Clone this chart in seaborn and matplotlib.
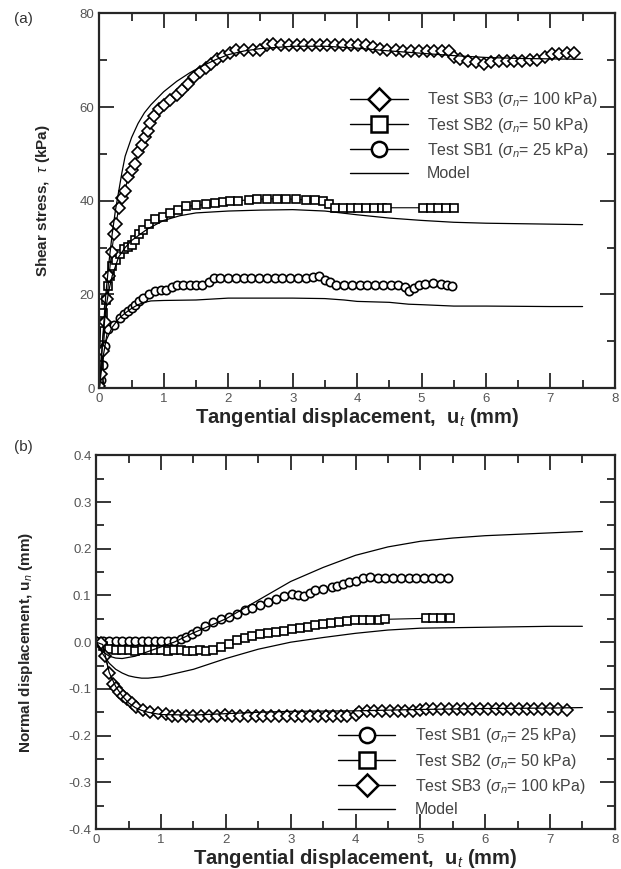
import numpy as np
import seaborn as sns
import matplotlib.pyplot as plt
from matplotlib.lines import Line2D
from matplotlib.ticker import MultipleLocator, FormatStrFormatter

# ---- (a) shear stress vs tangential displacement ----
sb3_x = [0.0, 0.03, 0.06, 0.09, 0.12, 0.15, 0.19, 0.23, 0.26, 0.30, 0.35, 0.40, 0.44, 0.50,
         0.56, 0.60, 0.66, 0.71, 0.75, 0.79, 0.85, 0.92, 1.00, 1.10, 1.20, 1.29, 1.38, 1.47,
         1.56, 1.65, 1.74, 1.83, 1.92, 2.02, 2.12, 2.25, 2.38, 2.50, 2.60, 2.70, 2.82, 2.94,
         3.06, 3.18, 3.30, 3.42, 3.54, 3.66, 3.78, 3.90, 4.02, 4.14, 4.25, 4.35, 4.47, 4.60,
         4.72, 4.84, 4.96, 5.08, 5.20, 5.32, 5.42, 5.50, 5.60, 5.72, 5.84, 5.97, 6.08, 6.20,
         6.32, 6.44, 6.56, 6.68, 6.80, 6.92, 7.02, 7.14, 7.26, 7.36]
sb3_y = [0.5, 3, 8, 14, 19, 24, 29, 33, 35, 38.5, 40.5, 42, 45, 46.5,
         47.8, 50.5, 52, 53.6, 55, 56.6, 58, 59.5, 60.5, 61.6, 62.6, 63.7, 65, 66.5,
         67.5, 68.4, 69.3, 70.2, 70.9, 71.6, 72.2, 72.2, 72.2, 72.3, 73.2, 73.4, 73.3, 73.3,
         73.3, 73.3, 73.3, 73.3, 73.3, 73.3, 73.3, 73.3, 73.3, 73.2, 72.9, 72.5, 72.2, 72.2,
         72.0, 72.0, 72.0, 72.0, 72.0, 72.0, 72.0, 70.8, 70.2, 69.9, 69.6, 69.2, 69.7, 69.8,
         69.8, 69.8, 69.9, 70.0, 70.0, 70.8, 71.3, 71.4, 71.5, 71.6]

sb2_x = [0.0, 0.0, 0.0, 0.01, 0.02, 0.06, 0.10, 0.13, 0.16, 0.19, 0.26, 0.32, 0.38, 0.44,
         0.50, 0.56, 0.62, 0.68, 0.77, 0.86, 0.98, 1.10, 1.22, 1.35, 1.50, 1.65, 1.80, 1.92,
         2.02, 2.15, 2.32, 2.45, 2.60, 2.75, 2.90, 3.05, 3.20, 3.35, 3.47, 3.56, 3.66, 3.78,
         3.90, 4.02, 4.14, 4.26, 4.38, 4.47, 5.02, 5.14, 5.26, 5.38, 5.50]
sb2_y = [0.5, 2, 5, 8.2, 13.9, 16, 18.9, 21.7, 24, 26, 27.4, 28.6, 29.6, 30.2,
         30.6, 31.7, 32.8, 33.8, 35, 36, 36.6, 37.4, 38.1, 38.8, 39.0, 39.2, 39.5, 39.7,
         39.9, 40.0, 40.2, 40.3, 40.4, 40.4, 40.4, 40.3, 40.2, 40.2, 39.9, 39.4, 38.5, 38.5,
         38.5, 38.5, 38.5, 38.5, 38.5, 38.5, 38.5, 38.5, 38.5, 38.5, 38.5]

sb1_x = [0.0, 0.02, 0.05, 0.085, 0.13, 0.22, 0.32, 0.38, 0.44, 0.50, 0.56, 0.62, 0.68, 0.77,
         0.86, 0.95, 1.04, 1.12, 1.20, 1.30, 1.40, 1.50, 1.60, 1.70, 1.78, 1.88, 2.00, 2.12,
         2.24, 2.36, 2.48, 2.60, 2.72, 2.84, 2.96, 3.08, 3.20, 3.32, 3.41, 3.50, 3.58, 3.68,
         3.80, 3.92, 4.04, 4.16, 4.28, 4.40, 4.52, 4.64, 4.74, 4.81, 4.88, 4.96, 5.06, 5.18,
         5.30, 5.40, 5.48]
sb1_y = [0.3, 1.8, 5, 8.9, 12.5, 13.5, 15, 15.8, 16.4, 17.1, 17.8, 18.5, 19.2, 20,
         20.7, 20.9, 21.0, 21.6, 22.1, 22.1, 22.1, 22.1, 22.1, 22.6, 23.5, 23.6, 23.6, 23.6,
         23.6, 23.6, 23.6, 23.6, 23.6, 23.6, 23.6, 23.5, 23.5, 23.8, 23.9, 23.1, 22.6, 22.1,
         22.1, 22.0, 22.0, 22.0, 22.0, 22.0, 22.0, 22.0, 21.6, 20.7, 21.4, 22.1, 22.2, 22.4,
         22.2, 21.9, 21.7]

m3_x = [0, 0.05, 0.1, 0.15, 0.2, 0.25, 0.3, 0.35, 0.4, 0.5, 0.6, 0.7, 0.8, 1.0, 1.2, 1.4,
        1.6, 1.8, 2.0, 2.25, 2.5, 3.0, 3.5, 4.0, 4.5, 5.0, 5.5, 6.0, 6.5, 7.0, 7.5]
m3_y = [0, 10, 20, 27, 33, 38, 42, 46, 49.5, 53.5, 56.5, 58.8, 60.5, 63.3, 65.5, 67.3,
        68.8, 70.1, 71.2, 72, 72.5, 73, 73, 72.6, 72, 71.5, 71, 70.6, 70.4, 70.3, 70.2]
m2_x = [0, 0.05, 0.1, 0.15, 0.2, 0.3, 0.4, 0.5, 0.75, 1.0, 1.25, 1.5, 2.0, 2.5, 3.0, 3.5,
        4.0, 4.5, 5.0, 5.5, 6.0, 6.5, 7.0, 7.5]
m2_y = [0, 10, 17, 21, 24, 28, 30, 31.5, 34, 35.8, 36.8, 37.4, 37.8, 38, 38.1, 37.8,
        37, 36.3, 35.8, 35.4, 35.2, 35.1, 35, 34.9]
m1_x = [0, 0.05, 0.1, 0.2, 0.3, 0.4, 0.5, 0.6, 0.7, 0.8, 1.0, 1.5, 2.0, 2.5, 3.0, 3.5,
        3.8, 4.0, 4.5, 4.8, 5.0, 5.5, 6.0, 7.0, 7.5]
m1_y = [0, 6, 10, 13, 14.8, 16, 17, 17.8, 18.3, 18.6, 18.7, 18.8, 19.2, 19.2, 19.2, 19.1,
        18.8, 18.5, 18.3, 17.9, 17.8, 17.5, 17.5, 17.4, 17.4]

# ---- (b) normal displacement vs tangential displacement ----
n1_x = [0.0, 0.1, 0.2, 0.3, 0.4, 0.5, 0.6, 0.7, 0.8, 0.9, 1.0, 1.1, 1.2, 1.30, 1.38, 1.47,
        1.56, 1.68, 1.80, 1.92, 2.05, 2.17, 2.29, 2.41, 2.53, 2.65, 2.78, 2.90, 3.02, 3.12,
        3.20, 3.29, 3.38, 3.50, 3.63, 3.72, 3.81, 3.90, 4.00, 4.11, 4.22, 4.34, 4.46, 4.58,
        4.70, 4.82, 4.94, 5.06, 5.18, 5.30, 5.42]
n1_y = [0.0, 0.003, 0.003, 0.003, 0.003, 0.003, 0.003, 0.003, 0.003, 0.003, 0.003, 0.003,
        0.003, 0.006, 0.011, 0.018, 0.025, 0.034, 0.043, 0.049, 0.054, 0.061, 0.068, 0.074,
        0.079, 0.086, 0.093, 0.099, 0.104, 0.102, 0.098, 0.105, 0.111, 0.114, 0.118, 0.121,
        0.125, 0.128, 0.132, 0.138, 0.139, 0.138, 0.138, 0.138, 0.138, 0.138, 0.138, 0.138,
        0.138, 0.138, 0.138]

n2_x = [0.0, 0.1, 0.2, 0.3, 0.4, 0.5, 0.6, 0.7, 0.8, 0.9, 1.0, 1.1, 1.2, 1.3, 1.4, 1.5,
        1.6, 1.7, 1.8, 1.93, 2.05, 2.17, 2.29, 2.41, 2.53, 2.65, 2.78, 2.90, 3.02, 3.14,
        3.26, 3.38, 3.50, 3.62, 3.74, 3.87, 3.99, 4.11, 4.23, 4.36, 4.46, 5.08, 5.20, 5.32,
        5.45]
n2_y = [0.0, -0.008, -0.015, -0.017, -0.016, -0.017, -0.018, -0.017, -0.017, -0.016,
        -0.017, -0.018, -0.017, -0.017, -0.018, -0.018, -0.017, -0.018, -0.016, -0.011,
        -0.004, 0.004, 0.009, 0.014, 0.017, 0.019, 0.021, 0.025, 0.028, 0.031, 0.033,
        0.036, 0.038, 0.041, 0.044, 0.046, 0.047, 0.048, 0.048, 0.048, 0.049, 0.051,
        0.051, 0.051, 0.051]

n3_x = [0.0, 0.08, 0.14, 0.2, 0.255, 0.30, 0.35, 0.41, 0.47, 0.55, 0.62, 0.72, 0.83, 0.95,
        1.08, 1.17, 1.26, 1.38, 1.50, 1.62, 1.74, 1.86, 1.98, 2.10, 2.22, 2.34, 2.46, 2.58,
        2.70, 2.82, 2.94, 3.06, 3.18, 3.30, 3.42, 3.54, 3.66, 3.78, 3.87, 4.00, 4.05, 4.17,
        4.29, 4.41, 4.53, 4.65, 4.77, 4.89, 5.00, 5.08, 5.20, 5.32, 5.44, 5.56, 5.68, 5.80,
        5.92, 6.04, 6.16, 6.28, 6.40, 6.52, 6.64, 6.76, 6.88, 7.00, 7.12, 7.27]
n3_y = [0.0, -0.002, -0.03, -0.065, -0.089, -0.098, -0.107, -0.115, -0.121, -0.131, -0.139,
        -0.146, -0.150, -0.152, -0.154, -0.157, -0.159, -0.158, -0.158, -0.158, -0.157,
        -0.157, -0.156, -0.157, -0.157, -0.158, -0.158, -0.158, -0.158, -0.159, -0.159,
        -0.159, -0.159, -0.159, -0.159, -0.159, -0.158, -0.158, -0.158, -0.155, -0.150,
        -0.148, -0.148, -0.148, -0.148, -0.148, -0.148, -0.147, -0.145, -0.143, -0.143,
        -0.143, -0.143, -0.143, -0.143, -0.143, -0.143, -0.143, -0.143, -0.143, -0.143,
        -0.143, -0.143, -0.143, -0.143, -0.143, -0.144, -0.145]

k1_x = [0, 0.1, 0.2, 0.3, 0.4, 0.6, 0.8, 1.0, 1.2, 1.5, 2.0, 2.5, 3.0, 3.5, 4.0, 4.5, 5.0,
        5.5, 6.0, 6.5, 7.0, 7.5]
k1_y = [0, -0.02, -0.03, -0.034, -0.035, -0.03, -0.02, -0.01, 0.0, 0.02, 0.05, 0.09, 0.13,
        0.16, 0.186, 0.204, 0.216, 0.223, 0.228, 0.231, 0.234, 0.237]
k2_x = [0, 0.1, 0.2, 0.3, 0.4, 0.5, 0.6, 0.7, 0.8, 1.0, 1.5, 2.0, 2.5, 3.0, 3.5, 4.0, 4.5,
        5.0, 5.5, 6.0, 6.5, 7.0, 7.5]
k2_y = [0, -0.025, -0.045, -0.058, -0.066, -0.072, -0.075, -0.077, -0.077, -0.074, -0.058,
        -0.035, -0.015, 0.0, 0.01, 0.019, 0.026, 0.03, 0.031, 0.032, 0.033, 0.034, 0.034]
k3_x = [0, 0.1, 0.15, 0.2, 0.3, 0.4, 0.5, 0.6, 0.7, 0.8, 1.0, 1.5, 2.0, 2.5, 3.0, 4.0, 5.0,
        6.0, 7.0, 7.5]
k3_y = [0, -0.005, -0.035, -0.065, -0.095, -0.115, -0.13, -0.14, -0.146, -0.15, -0.155,
        -0.156, -0.153, -0.15, -0.148, -0.147, -0.144, -0.142, -0.141, -0.14]

lab1 = r'Test SB1 ($\sigma_n$= 25 kPa)'
lab2 = r'Test SB2 ($\sigma_n$= 50 kPa)'
lab3 = r'Test SB3 ($\sigma_n$= 100 kPa)'

sns.set_style("ticks")
plt.rcParams['font.family'] = ['Liberation Sans', 'DejaVu Sans']
plt.rcParams['mathtext.fontset'] = 'custom'
plt.rcParams['mathtext.rm'] = 'Liberation Sans'
plt.rcParams['mathtext.it'] = 'Liberation Sans:italic'

fig = plt.figure(figsize=(6.21, 8.69), dpi=100)
ax1 = fig.add_axes([0.160, 0.5535, 0.830, 0.431])
ax2 = fig.add_axes([0.155, 0.046, 0.835, 0.430])

mk = dict(markersize=6, markerfacecolor='white', markeredgecolor='k',
          markeredgewidth=1.2, color='k', lw=0.8, estimator=None, sort=False, legend=False)
ml = dict(color='k', lw=0.9, estimator=None, sort=False, legend=False)


def series(ax, x, y, marker):
    sns.lineplot(x=x, y=y, ax=ax, marker=marker, **mk)


series(ax1, sb1_x, sb1_y, 'o')
series(ax1, sb2_x, sb2_y, 's')
series(ax1, sb3_x, sb3_y, 'D')
for x, y in [(m1_x, m1_y), (m2_x, m2_y), (m3_x, m3_y)]:
    sns.lineplot(x=x, y=y, ax=ax1, **ml)

series(ax2, n1_x, n1_y, 'o')
series(ax2, n2_x, n2_y, 's')
series(ax2, n3_x, n3_y, 'D')
for x, y in [(k1_x, k1_y), (k2_x, k2_y), (k3_x, k3_y)]:
    sns.lineplot(x=x, y=y, ax=ax2, **ml)


def handle(marker, label):
    return Line2D([], [], color='k', lw=1.0, marker=marker, markersize=11,
                  markerfacecolor='white', markeredgecolor='k', markeredgewidth=1.8,
                  label=label)


model_h = Line2D([], [], color='k', lw=1.0, label='Model')
leg_kw = dict(frameon=False, fontsize=11.5, handlelength=3.6, handletextpad=1.2,
              labelspacing=0.40, borderpad=0, borderaxespad=0, labelcolor='#444')
ax1.legend(handles=[handle('D', lab3), handle('s', lab2), handle('o', lab1), model_h],
           loc='upper left', bbox_to_anchor=(0.487, 0.795), **leg_kw)
ax2.legend(handles=[handle('o', lab1), handle('s', lab2), handle('D', lab3), model_h],
           loc='upper left', bbox_to_anchor=(0.466, 0.275), **leg_kw)

for ax in (ax1, ax2):
    ax.set_xlim(0, 8)
    ax.xaxis.set_major_locator(MultipleLocator(1))
    ax.xaxis.set_minor_locator(MultipleLocator(0.5))
    ax.tick_params(which='both', direction='in', top=True, right=True,
                   labelsize=9.5, labelcolor='#555', width=1.3)
    ax.tick_params(which='major', length=11)
    ax.tick_params(which='minor', length=6)
    for s in ax.spines.values():
        s.set_linewidth(1.6)
    ax.set_xlabel(r'Tangential displacement,  u$_t$ (mm)', fontsize=14.5,
                  fontweight='bold', labelpad=1)

ax1.set_ylim(0, 80)
ax1.yaxis.set_major_locator(MultipleLocator(20))
ax1.yaxis.set_minor_locator(MultipleLocator(10))
ax1.set_ylabel(r'Shear stress,  $\tau$ (kPa)', fontsize=11, fontweight='bold', labelpad=20)

ax2.set_ylim(-0.4, 0.4)
ax2.yaxis.set_major_locator(MultipleLocator(0.1))
ax2.yaxis.set_minor_locator(MultipleLocator(0.05))
ax2.yaxis.set_major_formatter(FormatStrFormatter('%.1f'))
ax2.set_ylabel(r'Normal displacement, u$_n$ (mm)', fontsize=11, fontweight='bold', labelpad=24)

fig.text(0.022, 0.978, '(a)', fontsize=11, color='#333', va='center')
fig.text(0.022, 0.486, '(b)', fontsize=11, color='#333', va='center')

fig.savefig('out.png', dpi=100)
